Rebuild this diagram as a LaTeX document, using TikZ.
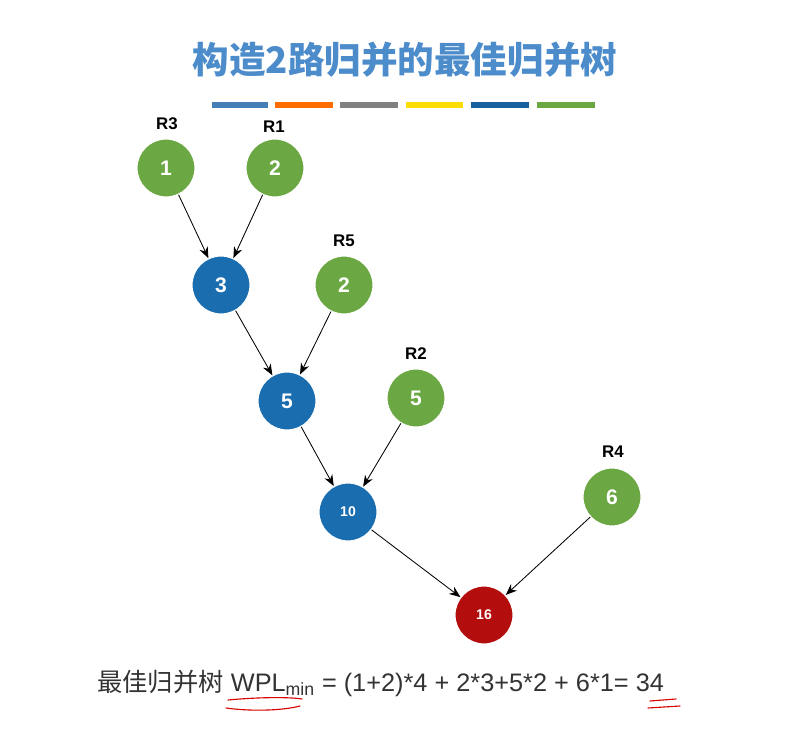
\documentclass[tikz,border=0pt]{standalone}
\usepackage{fontspec}
\setmainfont{Liberation Sans}
\newfontfamily\cjk{Noto Sans CJK SC}
\usetikzlibrary{arrows.meta}
\definecolor{leafgreen}{HTML}{6BA843}
\definecolor{midblue}{HTML}{1A6DAF}
\definecolor{rootred}{HTML}{B40D0D}
\definecolor{titleblue}{HTML}{4D8CCB}
\tikzset{%
	leaf/.style={circle,fill=leafgreen,draw=white,thick,minimum size=1.45cm,text=white,font=\fontsize{15}{18}\selectfont\bfseries},
	inner/.style={leaf,fill=midblue},
	root/.style={leaf,fill=rootred},
	tag/.style={font=\large\bfseries},
	edge/.style={-{Stealth[length=2.8mm,width=2.2mm]},semithick},
	bar/.style={line width=1.4mm}
}
\begin{document}
\begin{tikzpicture}[x=0.025cm,y=-0.025cm]
		\useasboundingbox (0,0) rectangle (810,749);

		\node [font=\cjk\fontsize{26}{30}\selectfont\bfseries,text=titleblue] (title) at (405,60) {构造2路归并的最佳归并树};
		\draw [bar,titleblue!90!black] (212,105)--(268,105);
		\draw [bar,orange!85!red] (275,105)--(333,105);
		\draw [bar,gray] (340,105)--(398,105);
		\draw [bar,yellow!80!orange] (406,105)--(463,105);
		\draw [bar,midblue!90!black] (471,105)--(529,105);
		\draw [bar,leafgreen] (537,105)--(595,105);

		\node [leaf] (r3) at (166,168) {1};
		\node [leaf] (r1) at (275,168) {2};
		\node [inner] (a) at (221,285) {3};
		\node [leaf] (r5) at (344,285) {2};
		\node [inner] (b) at (287,401) {5};
		\node [leaf] (r2) at (416,398) {5};
		\node [inner,font=\bfseries] (c) at (348,512) {10};
		\node [leaf] (r4) at (612,497) {6};
		\node [root,font=\bfseries] (d) at (484,615) {16};

		\node [tag] at (167,124) {R3};
		\node [tag] at (274,127) {R1};
		\node [tag] at (344,241) {R5};
		\node [tag] at (416,354) {R2};
		\node [tag] at (613,452) {R4};

		\draw [edge] (r3)--(a);
		\draw [edge] (r1)--(a);
		\draw [edge] (a)--(b);
		\draw [edge] (r5)--(b);
		\draw [edge] (b)--(c);
		\draw [edge] (r2)--(c);
		\draw [edge] (c)--(d);
		\draw [edge] (r4)--(d);

		\node [anchor=west,font=\fontsize{18}{22}\selectfont,text=black!80,inner sep=0pt] (wpl) at (97,683) {{\cjk 最佳归并树} WPL$_{\mathrm{min}}$ = (1+2)*4 + 2*3+5*2 + 6*1= 34};

		\draw [red!85!black,thick,line cap=round] (228,700) .. controls (260,697) and (290,697) .. (302,699);
		\draw [red!85!black,thick,line cap=round] (226,708) .. controls (255,712) and (285,710) .. (300,706);
		\draw [red!85!black,thick,line cap=round] (650,701)--(676,699);
		\draw [red!85!black,thick,line cap=round] (648,708)--(680,706);
	\end{tikzpicture}
\end{document}
